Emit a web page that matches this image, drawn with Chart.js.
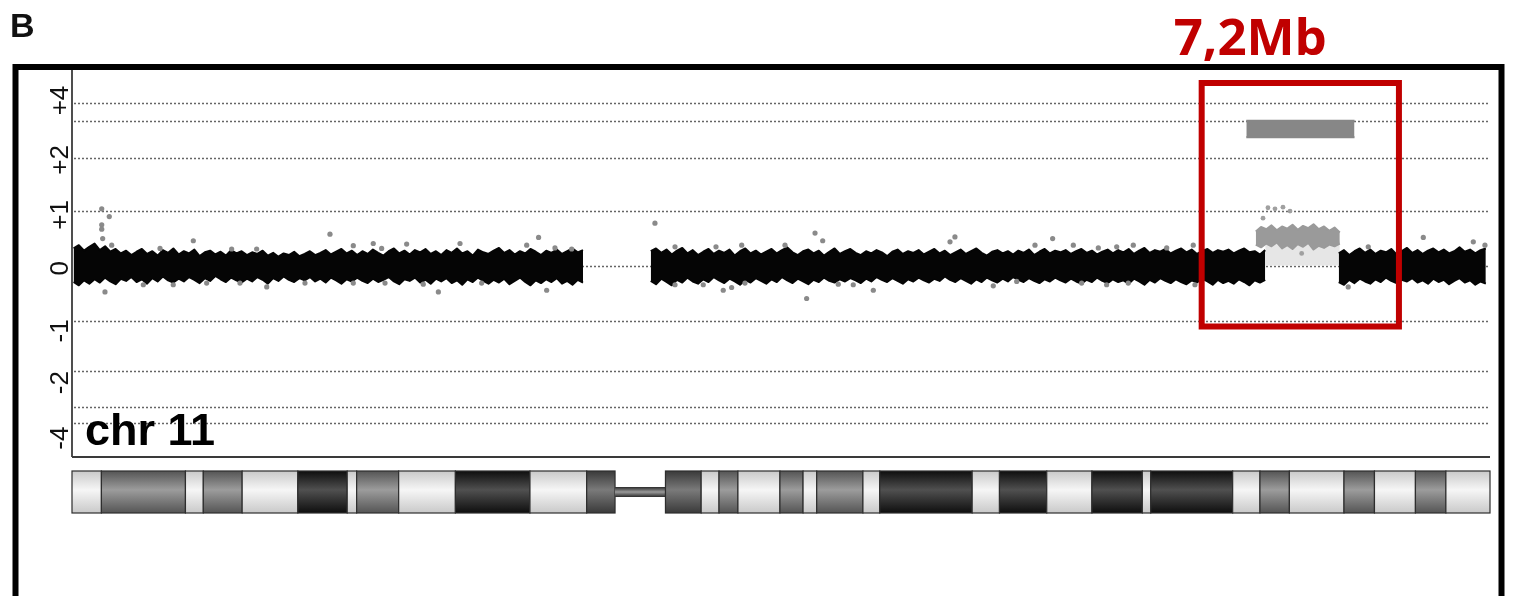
<!DOCTYPE html>
<html>
<head>
<meta charset="utf-8">
<title>chr 11</title>
<script src="https://cdn.jsdelivr.net/npm/chart.js@4.4.1/dist/chart.umd.min.js"></script>
<style>
  html, body { margin: 0; background: #fff; }
  canvas { display: block; }
</style>
</head>
<body>
<canvas id="chart" width="1530" height="596"></canvas>
<script>
// ---- data (x in Mb along chr11, y in plot units, 0 = balanced) ----
const X_MIN = 0;
const X_MAX = 135;
const Y_MIN = -3.482;
const Y_MAX = 3.555;

const GRID_LEVELS = [2.96, 2.63, 1.95, 1.0, 0, -1.0, -1.91, -2.57, -2.87];
const TICK_AT = [3.0, 1.92, 0.92, -0.05, -1.19, -2.13, -3.14];
const TICK_LABELS = ['+4', '+2', '+1', '0', '-1', '-2', '-4'];

// probe bins: start Mb, step Mb, then upper / lower edge of the probe cloud
const SEG1_START = 0.15, SEG1_STEP = 0.5;
const SEG1_HI = [0.31,0.37,0.27,0.34,0.40,0.28,0.35,0.25,0.30,0.22,
  0.27,0.19,0.25,0.30,0.21,0.26,0.18,0.28,0.23,0.31,
  0.20,0.26,0.22,0.29,0.17,0.24,0.27,0.20,0.25,0.18,
  0.28,0.22,0.26,0.19,0.24,0.21,0.27,0.18,0.23,0.16,
  0.22,0.19,0.25,0.17,0.21,0.26,0.19,0.23,0.28,0.20,
  0.25,0.30,0.22,0.27,0.19,0.26,0.21,0.29,0.23,0.18,
  0.26,0.31,0.22,0.27,0.20,0.28,0.24,0.30,0.21,0.26,
  0.19,0.28,0.23,0.31,0.22,0.26,0.18,0.29,0.24,0.21,
  0.27,0.32,0.23,0.28,0.20,0.26,0.22,0.30,0.25,0.19,
  0.27,0.23,0.29,0.21,0.26,0.31,0.24,0.28];
const SEG1_LO = [-0.30,-0.36,-0.27,-0.33,-0.25,-0.31,-0.22,-0.29,-0.34,-0.24,
  -0.28,-0.21,-0.30,-0.25,-0.33,-0.23,-0.29,-0.20,-0.27,-0.31,
  -0.24,-0.29,-0.21,-0.26,-0.32,-0.23,-0.28,-0.19,-0.25,-0.30,
  -0.22,-0.27,-0.31,-0.24,-0.29,-0.21,-0.26,-0.33,-0.23,-0.28,
  -0.20,-0.26,-0.30,-0.23,-0.27,-0.21,-0.29,-0.24,-0.31,-0.22,
  -0.27,-0.33,-0.25,-0.29,-0.22,-0.28,-0.32,-0.24,-0.30,-0.26,
  -0.21,-0.29,-0.34,-0.25,-0.28,-0.22,-0.31,-0.26,-0.33,-0.24,
  -0.29,-0.23,-0.32,-0.27,-0.35,-0.25,-0.30,-0.22,-0.28,-0.33,
  -0.26,-0.31,-0.24,-0.34,-0.28,-0.22,-0.30,-0.36,-0.27,-0.32,
  -0.25,-0.30,-0.23,-0.33,-0.28,-0.35,-0.26,-0.31];

const SEG2_START = 55.1, SEG2_STEP = 0.5;
const SEG2_HI = [0.26,0.31,0.23,0.29,0.20,0.27,0.32,0.22,0.28,0.19,
  0.25,0.30,0.21,0.27,0.23,0.29,0.18,0.26,0.31,0.22,
  0.27,0.20,0.25,0.30,0.22,0.28,0.33,0.24,0.19,0.26,
  0.29,0.22,0.27,0.18,0.25,0.31,0.21,0.26,0.30,0.23,
  0.19,0.26,0.22,0.28,0.24,0.17,0.25,0.29,0.21,0.26,
  0.23,0.28,0.20,0.25,0.30,0.22,0.27,0.19,0.24,0.29,
  0.21,0.26,0.31,0.23,0.18,0.25,0.28,0.22,0.26,0.20,
  0.27,0.23,0.29,0.19,0.25,0.30,0.22,0.27,0.24,0.28,
  0.21,0.26,0.30,0.23,0.27,0.20,0.25,0.29,0.22,0.28,
  0.24,0.30,0.21,0.27,0.32,0.23,0.28,0.25,0.30,0.22,
  0.27,0.31,0.24,0.29,0.21,0.26,0.30,0.23,0.28,0.25,
  0.29,0.22,0.27,0.31,0.24,0.26,0.20,0.28];
const SEG2_LO = [-0.28,-0.34,-0.24,-0.30,-0.36,-0.26,-0.31,-0.22,-0.29,-0.33,
  -0.25,-0.30,-0.21,-0.27,-0.32,-0.24,-0.29,-0.35,-0.26,-0.31,
  -0.23,-0.28,-0.33,-0.25,-0.30,-0.21,-0.27,-0.32,-0.24,-0.29,
  -0.34,-0.26,-0.30,-0.22,-0.28,-0.31,-0.25,-0.29,-0.23,-0.27,
  -0.32,-0.24,-0.29,-0.21,-0.26,-0.30,-0.23,-0.28,-0.33,-0.25,
  -0.29,-0.22,-0.27,-0.31,-0.24,-0.28,-0.20,-0.26,-0.30,-0.23,
  -0.28,-0.33,-0.25,-0.30,-0.22,-0.27,-0.31,-0.24,-0.29,-0.21,
  -0.26,-0.30,-0.23,-0.28,-0.32,-0.25,-0.29,-0.22,-0.27,-0.31,
  -0.24,-0.29,-0.33,-0.26,-0.30,-0.22,-0.28,-0.32,-0.25,-0.30,
  -0.27,-0.33,-0.24,-0.29,-0.35,-0.26,-0.31,-0.23,-0.28,-0.32,
  -0.25,-0.30,-0.34,-0.27,-0.31,-0.24,-0.29,-0.35,-0.26,-0.32,
  -0.28,-0.33,-0.25,-0.30,-0.36,-0.27,-0.31,-0.26];

// gained region (grey probes)
const GAIN_START = 112.7, GAIN_STEP = 0.5;
const GAIN_HI = [0.62,0.70,0.66,0.73,0.64,0.71,0.67,0.74,0.65,0.72,0.68,0.75,0.66,0.71,0.63,0.69,0.60];
const GAIN_LO = [0.38,0.33,0.40,0.35,0.42,0.31,0.37,0.30,0.39,0.34,0.41,0.29,0.36,0.32,0.38,0.35,0.40];
const GAIN_MEAN = 0.45;
const GAIN_FROM = 113.6, GAIN_TO = 120.7;

const SEG4_START = 120.6, SEG4_STEP = 0.5;
const SEG4_HI = [0.22,0.28,0.19,0.26,0.31,0.23,0.29,0.21,0.27,0.24,0.30,0.20,0.26,0.32,0.23,
  0.28,0.21,0.27,0.31,0.24,0.29,0.22,0.26,0.33,0.25,0.29,0.22,0.28,0.31];
const SEG4_LO = [-0.30,-0.35,-0.26,-0.32,-0.24,-0.29,-0.33,-0.25,-0.30,-0.22,-0.28,-0.32,-0.26,-0.29,-0.23,
  -0.31,-0.27,-0.33,-0.24,-0.30,-0.26,-0.34,-0.28,-0.23,-0.31,-0.27,-0.35,-0.29,-0.33];

// single probes lying outside the cloud
const OUTLIER_X = [2.83,3.55,2.83,2.83,2.92,3.78,3.14,11.55,24.56,26.78,28.68,31.86,36.94,43.29,44.42,
  15.2,17.58,8.38,29.48,34.88,29.8,15.99,18.54,12.82,6.79,9.64,22.18,26.78,33.44,39.0,45.19,45.98,47.57,
  55.5,70.74,71.47,84.06,83.59,69.94,62.0,62.8,57.41,60.1,64.07,76.29,74.38,72.95,57.41,61.31,63.76,67.88,
  87.71,89.94,93.36,91.68,95.33,97.71,99.46,101.04,104.22,106.75,96.12,98.5,100.56,106.91,
  121.5,128.65,133.41,134.52,123.41];
const OUTLIER_Y = [1.03,0.89,0.74,0.66,0.49,0.37,-0.48,0.45,0.57,0.36,0.40,0.39,0.40,0.37,0.51,
  0.30,0.30,0.31,0.31,-0.48,-0.32,-0.32,-0.39,-0.32,-0.35,-0.35,-0.32,-0.32,-0.34,-0.32,-0.45,0.32,0.30,
  0.77,0.59,0.45,0.52,0.43,-0.60,-0.45,-0.40,-0.35,-0.35,-0.32,-0.45,-0.35,-0.34,0.34,0.34,0.37,0.37,
  -0.37,-0.29,0.49,0.37,0.37,0.32,0.34,0.37,0.32,0.37,-0.32,-0.35,-0.32,-0.35,
  -0.39,0.51,0.43,0.37,0.34];
const GAIN_OUT_X = [113.86,114.53,115.29,115.96,113.39,117.07];
const GAIN_OUT_Y = [1.05,1.03,1.06,0.99,0.86,0.22];

// segment call bar and highlighted region
const CALL_FROM = 111.8, CALL_TO = 122.1, CALL_TOP = 2.63, CALL_BOTTOM = 2.33;
const BOX_FROM = 107.55, BOX_TO = 126.33, BOX_TOP = 3.32, BOX_BOTTOM = -1.11;
const BOX_LABEL = '7,2Mb';
const CHROM_LABEL = 'chr 11';
const PANEL_LABEL = 'B';

// ideogram bands (Mb start, stain); the last band runs to X_MAX
const BAND_START = [0,2.8,10.8,12.5,16.2,21.5,26.2,27.1,31.1,36.5,43.6,49.0,51.7,56.5,59.9,61.6,63.4,67.4,
  69.6,70.9,75.3,76.9,85.7,88.3,92.8,97.1,101.9,102.7,110.5,113.1,115.9,121.1,124.0,127.9,130.8];
const BAND_STAIN = ['gneg','gpos50','gneg','gpos50','gneg','gpos100','gneg','gpos50','gneg','gpos100',
  'gneg','gpos75','acen','gpos75','gneg','gpos50','gneg','gpos50','gneg','gpos50','gneg','gpos100',
  'gneg','gpos100','gneg','gpos100','gneg','gpos100','gneg','gpos50','gneg','gpos50','gneg','gpos50','gneg'];

// ---- helpers ----
const bins = (start, step, vals) => vals.map((y, i) => ({ x: +(start + i * step).toFixed(2), y }));
const pairs = (xs, ys) => xs.map((x, i) => ({ x, y: ys[i] }));

const STAIN_SHADE = {
  gneg: ['#c9c9c9', '#f6f6f6'],
  gpos50: ['#555555', '#9c9c9c'],
  gpos75: ['#3a3a3a', '#7a7a7a'],
  gpos100: ['#0e0e0e', '#505050'],
};

function cloud(hi, lo, color, order) {
  const base = { borderColor: color, backgroundColor: color, borderWidth: 2,
    pointRadius: 0, tension: 0, order, borderJoinStyle: 'round' };
  return [
    { ...base, data: hi, fill: '+1' },
    { ...base, data: lo, fill: false },
  ];
}

const datasets = [
  ...cloud(bins(SEG1_START, SEG1_STEP, SEG1_HI), bins(SEG1_START, SEG1_STEP, SEG1_LO), '#050505', 4),
  ...cloud(bins(SEG2_START, SEG2_STEP, SEG2_HI), bins(SEG2_START, SEG2_STEP, SEG2_LO), '#050505', 4),
  ...cloud(bins(GAIN_START, GAIN_STEP, GAIN_HI), bins(GAIN_START, GAIN_STEP, GAIN_LO), '#9a9a9a', 3),
  ...cloud(bins(SEG4_START, SEG4_STEP, SEG4_HI), bins(SEG4_START, SEG4_STEP, SEG4_LO), '#050505', 4),
  { // shaded area between zero and the gain mean
    data: [{ x: GAIN_FROM, y: GAIN_MEAN }, { x: GAIN_TO, y: GAIN_MEAN }],
    fill: 'origin', backgroundColor: '#e6e6e6', borderWidth: 0, pointRadius: 0, order: 6,
  },
  ...cloud([{ x: CALL_FROM, y: CALL_TOP }, { x: CALL_TO, y: CALL_TOP }],
    [{ x: CALL_FROM, y: CALL_BOTTOM }, { x: CALL_TO, y: CALL_BOTTOM }], '#878787', 3),
  {
    data: pairs(OUTLIER_X, OUTLIER_Y), showLine: false, pointRadius: 2.6, pointBorderWidth: 0,
    pointBackgroundColor: '#8a8a8a', order: 2,
  },
  {
    data: pairs(GAIN_OUT_X, GAIN_OUT_Y), showLine: false, pointRadius: 2.4, pointBorderWidth: 0,
    pointBackgroundColor: '#a0a0a0', order: 2,
  },
  {
    data: [{ x: BOX_FROM, y: BOX_TOP }, { x: BOX_TO, y: BOX_TOP }, { x: BOX_TO, y: BOX_BOTTOM },
      { x: BOX_FROM, y: BOX_BOTTOM }, { x: BOX_FROM, y: BOX_TOP }],
    borderColor: '#c00000', borderWidth: 6, pointRadius: 0, fill: false, tension: 0,
    borderJoinStyle: 'miter', borderCapStyle: 'square', order: 0,
  },
];

// ---- decorations drawn from the chart's own scales ----
const arrayCghFrame = {
  id: 'arrayCghFrame',
  beforeDatasetsDraw(chart) {
    const { ctx, chartArea: a, scales: { y } } = chart;
    ctx.save();
    ctx.strokeStyle = '#666';
    ctx.lineWidth = 1.5;
    ctx.setLineDash([2, 2]);
    GRID_LEVELS.forEach((v) => {
      const py = Math.round(y.getPixelForValue(v)) + 0.5;
      ctx.beginPath();
      ctx.moveTo(a.left + 2, py);
      ctx.lineTo(a.right, py);
      ctx.stroke();
    });
    ctx.restore();
  },
  afterDatasetsDraw(chart) {
    const { ctx, chartArea: a, scales: { x, y } } = chart;
    ctx.save();

    // axes
    ctx.strokeStyle = '#222';
    ctx.lineWidth = 1.6;
    ctx.beginPath();
    ctx.moveTo(a.left, a.top);
    ctx.lineTo(a.left, a.bottom);
    ctx.stroke();
    ctx.strokeStyle = '#3a3a3a';
    ctx.lineWidth = 2;
    ctx.beginPath();
    ctx.moveTo(a.left, a.bottom);
    ctx.lineTo(a.right, a.bottom);
    ctx.stroke();

    // rotated tick labels
    ctx.fillStyle = '#111';
    ctx.font = '26px "Liberation Sans", Arial, sans-serif';
    ctx.textAlign = 'center';
    ctx.textBaseline = 'alphabetic';
    TICK_AT.forEach((v, i) => {
      ctx.save();
      ctx.translate(a.left - 4, y.getPixelForValue(v));
      ctx.rotate(-Math.PI / 2);
      ctx.fillText(TICK_LABELS[i], 0, 0);
      ctx.restore();
    });

    // chromosome name
    ctx.textAlign = 'left';
    ctx.font = 'bold 45px "Liberation Sans", Arial, sans-serif';
    ctx.fillStyle = '#000';
    ctx.fillText(CHROM_LABEL, a.left + 13, a.bottom - 12);

    // ideogram
    const top = a.bottom + 14, h = 42;
    BAND_START.forEach((s, i) => {
      const e = i + 1 < BAND_START.length ? BAND_START[i + 1] : X_MAX;
      const x0 = x.getPixelForValue(s), x1 = x.getPixelForValue(e);
      const stain = BAND_STAIN[i];
      if (stain === 'acen') {
        const cy = top + h / 2;
        const g = ctx.createLinearGradient(0, cy - 5, 0, cy + 5);
        g.addColorStop(0, '#2a2a2a');
        g.addColorStop(0.5, '#9a9a9a');
        g.addColorStop(1, '#2a2a2a');
        ctx.fillStyle = g;
        ctx.fillRect(x0, cy - 5, x1 - x0, 10);
        return;
      }
      const [edge, mid] = STAIN_SHADE[stain];
      const g = ctx.createLinearGradient(0, top, 0, top + h);
      g.addColorStop(0, edge);
      g.addColorStop(0.45, mid);
      g.addColorStop(1, edge);
      ctx.fillStyle = g;
      ctx.fillRect(x0, top, x1 - x0, h);
      ctx.strokeStyle = '#2e2e2e';
      ctx.lineWidth = 1.2;
      ctx.strokeRect(x0, top, x1 - x0, h);
    });

    // outer panel frame
    ctx.strokeStyle = '#000';
    ctx.lineWidth = 6;
    ctx.strokeRect(15.5, 67, 1486, 640);

    // panel letter
    ctx.font = 'bold 34px "Liberation Sans", Arial, sans-serif';
    ctx.fillStyle = '#111';
    ctx.fillText(PANEL_LABEL, 10, 37);

    // region size label, sits left of the box centre
    ctx.font = 'bold 51px "Open Sans", "Liberation Sans", sans-serif';
    ctx.fillStyle = '#c00000';
    ctx.textAlign = 'left';
    ctx.fillText(BOX_LABEL, x.getPixelForValue(BOX_FROM) - 28, 55);
    ctx.restore();
  },
};

new Chart(document.getElementById('chart'), {
  type: 'line',
  data: { datasets },
  options: {
    responsive: false,
    animation: false,
    events: [],
    layout: { padding: { left: 72, top: 70, right: 40, bottom: 139 } },
    scales: {
      x: { type: 'linear', min: X_MIN, max: X_MAX, display: false },
      y: { type: 'linear', min: Y_MIN, max: Y_MAX, display: false },
    },
    plugins: { legend: { display: false }, tooltip: { enabled: false } },
  },
  plugins: [arrayCghFrame],
});
</script>
</body>
</html>
